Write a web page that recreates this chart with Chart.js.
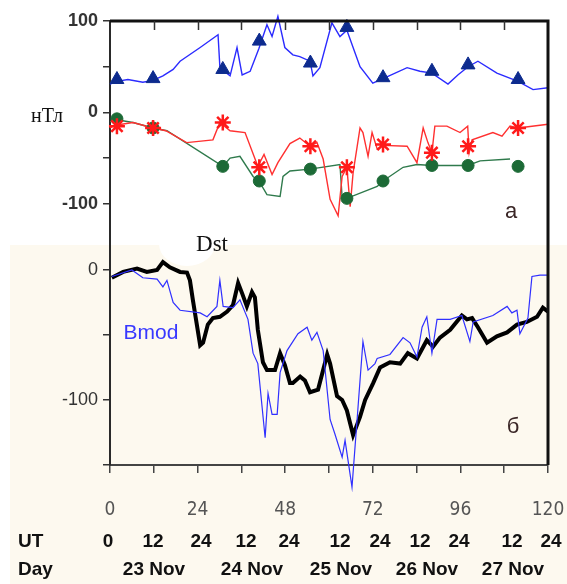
<!DOCTYPE html>
<html>
<head>
<meta charset="utf-8">
<script src="https://cdn.jsdelivr.net/npm/chart.js@4.4.1/dist/chart.umd.min.js"></script>
<style>
body{margin:0;background:#fff;width:567px;height:584px;overflow:hidden;position:relative;font-family:'Liberation Sans',Arial,sans-serif}
#beige{position:absolute;left:10px;top:245px;width:557px;height:339px;background:#fdf9ef}
#blob{position:absolute;left:159px;top:222px;width:56px;height:44px;border-radius:50%;background:#fff}
canvas{position:absolute;left:0}
#top{top:0}
#bot{top:245px}
.t{position:absolute;white-space:nowrap;line-height:1;transform:translate(-50%,-50%)}
.l{transform:translate(0,-50%)}
</style>
</head>
<body>
<div id="beige"></div>
<div id="blob"></div>
<canvas id="top" width="567" height="245"></canvas>
<canvas id="bot" width="567" height="339"></canvas>
<script>
// panel a: three field components, hours from 00 UT 23 Nov
const topBlueHours = [0,1.9,4.9,9,11.8,14.5,17.3,19.2,24.7,29.6,30.1,31,32.9,34.8,36.2,38.4,40.8,43,44.4,46,47.9,50.1,52,54.8,55.6,57.5,60.8,63,64.9,68.5,72,74.8,81.4,84.9,88.2,92.6,95.3,98.1,100.8,106,111.8,115.9,120]
const topBlueVals  = [31,34,36,33,35,40,47,56,71,85,50,46,40,71,41,45,70,96,83,105,71,63,61,56,40,49,98,83,90,50,32,37,49,45,43,31,41,50,56,43,34,25,27]

const redHours = [0,1.4,6.3,11.8,15.3,21,28.2,30.1,32.9,37,40.5,42.2,44.4,46,49.3,52,54.8,56.7,58.4,60.3,62.5,63.6,64.9,65.8,66.6,68.5,69.3,70.7,71.8,73.2,74.8,81.4,84.1,85.8,87.1,88.2,89,92.3,95.9,98,98.4,99.2,104.9,107.4,109.6,111.8,120]
const redVals  = [-17,-14,-11,-17,-20,-33,-30,-11,-20,-22,-59,-46,-68,-55,-34,-28,-37,-33,-51,-95,-113,-70,-60,-103,-66,-17,-22,-48,-22,-40,-36,-37,-55,-17,-33,-44,-15,-15,-22,-15,-44,-30,-22,-26,-15,-17,-13]

const greenHours = [0,1.9,6.3,11.8,15.6,30.9,32.9,35.6,39.2,40.8,43,46.6,47.4,49.3,54.8,63,63.6,64.9,73.2,74.8,80.3,84.1,88.2,98,101.4,109.6]
const greenVals  = [-10,-8,-11,-17,-20,-59,-50,-48,-70,-75,-90,-92,-70,-64,-62,-57,-93,-94,-81,-75,-60,-57,-58,-58,-53,-51]

// observation markers
const markHours = [1.9,11.8,30.9,40.9,54.9,64.9,74.8,88.2,98.1,111.8]
const triVals   = [36,37,47,78,54,93,38,45,52,36]
const starVals  = [-15,-17,-11,-60,-37,-60,-35,-44,-37,-17]
const dotVals   = [-7,-17,-59,-75,-62,-94,-75,-58,-58,-59]

// panel б: Dst and Bmod
const dstHours = [0.5,3.6,7.4,10.1,12.9,14.5,16.4,19.2,21.1,21.9,22.7,24.7,25.5,26.8,28.2,30.1,32.1,33.7,35.1,36.2,37.5,38.9,39.7,40.5,41.9,43,45.2,46.6,47.9,49.3,50.1,52.1,53.4,54.8,57,59.5,60.3,62.2,63.6,64.9,66.6,68.5,69.9,72.1,74,76.7,79.5,81.6,84.1,86.8,88.5,90.4,93.2,96.4,97.8,99.2,100.8,103.3,106,108.8,111.5,114.2,117,118.6,120]
const dstVals  = [-6,-1.5,1,-1.5,0,6,2,-1.5,-2,-8,-23,-58,-56,-42,-37,-36,-32,-27,-10,-18,-28,-17,-21,-46,-71,-77,-77,-64,-73,-87,-87,-82,-85,-94,-92,-65,-72,-97,-100,-108,-127,-113,-100,-87,-75,-71,-72,-64,-68,-54,-59,-52,-46,-35,-38,-37,-44,-56,-51,-48,-42,-40,-36,-29,-32]

const bmodHours = [0.5,6,9,12.9,14.5,15.6,17.3,19.2,24.7,26.6,29.3,30.1,31,33.7,35.6,37.8,39.2,40.5,42.5,43.3,44.4,45.8,46.6,48.5,51.5,54,55.3,56.7,58.4,60.3,61.6,63.6,64.4,66.3,67.7,69.3,70.7,72.6,73.2,76.7,80.3,82.2,84.1,85.5,86.8,88.2,89.6,93.2,96.4,98.6,99.5,104.9,108.8,110.1,111.5,112.3,114.5,115.6,117.8,120]
const bmodVals  = [-5,0,-6,-7,-13,-8,-25,-31,-33,-36,-28,-8,-28,-29,-23,-38,-64,-72,-129,-95,-111,-111,-79,-62,-49,-44,-54,-48,-62,-115,-126,-144,-131,-167,-115,-55,-77,-72,-68,-65,-52,-56,-67,-44,-36,-64,-38,-38,-35,-55,-40,-35,-28,-33,-31,-49,-37,-5,-4,-4]

const utLabels  = ['0','12','24','12','24','12','24','12','24','12','24']
const dayLabels = ['23 Nov','24 Nov','25 Nov','26 Nov','27 Nov']

const pts = (xs, ys) => xs.map((x, i) => ({x: x, y: ys[i]}))

const frame = {
  id: 'frame',
  afterDraw(chart, args, opts) {
    const ctx = chart.ctx, a = chart.chartArea, x = chart.scales.x
    ctx.save()
    ctx.strokeStyle = '#111'
    ctx.lineWidth = 3
    ctx.beginPath()
    ctx.moveTo(a.right, opts.top ? a.top - 1.5 : a.top)
    ctx.lineTo(a.right, a.bottom)
    if (opts.top) {
      ctx.moveTo(a.left, a.top)
      ctx.lineTo(a.right, a.top)
    }
    ctx.stroke()
    if (opts.top) { // inward ticks on the top edge
      ctx.lineWidth = 1.5
      ctx.strokeStyle = '#333'
      ctx.beginPath()
      for (let h = 12; h < 120; h += 12) {
        const px = Math.round(x.getPixelForValue(h)) + 0.5
        ctx.moveTo(px, a.top)
        ctx.lineTo(px, a.top + 9)
      }
      ctx.stroke()
    }
    ctx.restore()
  }
}

const noPad = s => { s.paddingTop = s.paddingBottom = s.paddingLeft = s.paddingRight = 0 }

const yAxis = (ticks, bold) => ({
  afterFit: s => { s.width = 110; noPad(s) },
  afterBuildTicks: s => { s.ticks = ticks.map(v => ({value: v})) },
  grid: {drawOnChartArea: false, tickLength: 7, color: '#333', lineWidth: 1.5},
  border: {display: true, color: '#2a2a2a', width: 2},
  ticks: {
    padding: 5, color: '#333',
    font: {family: 'Liberation Sans', size: 18, weight: bold ? 'bold' : 'normal'},
    callback: v => (v % 100 === 0 ? String(v) : '')
  }
})

const line = (data, color, width) => ({
  data: data, borderColor: color, borderWidth: width, pointRadius: 0,
  fill: false, tension: 0, clip: false
})
const marks = (data, style, color, r) => ({
  data: data, showLine: false, pointStyle: style, pointRadius: r,
  pointBackgroundColor: color, pointBorderColor: color, pointBorderWidth: style === 'star' ? 2.5 : 1, clip: false
})

const common = {
  responsive: false, animation: false, events: [],
  plugins: {legend: {display: false}, tooltip: {enabled: false}}
}

new Chart(document.getElementById('top'), {
  type: 'line',
  data: {datasets: [
    marks(pts(markHours, triVals), 'triangle', '#0d2b8e', 8),
    marks(pts(markHours, starVals), 'star', '#ff1a1a', 8),
    marks(pts(markHours, dotVals), 'circle', '#1c6a36', 6),
    line(pts(topBlueHours, topBlueVals), '#2b2bff', 1.4),
    line(pts(redHours, redVals), '#ff3030', 1.4),
    line(pts(greenHours, greenVals), '#2f7a4c', 1.4)
  ]},
  options: Object.assign({}, common, {
    layout: {autoPadding: false, padding: {top: 21, right: 19, bottom: 0, left: 0}},
    plugins: Object.assign({}, common.plugins, {frame: {top: true}}),
    scales: {
      x: {type: 'linear', min: 0, max: 120, display: false, afterFit: s => { s.height = 0; noPad(s) }},
      y: Object.assign({min: -145, max: 100}, yAxis([100, 50, 0, -50, -100], true))
    }
  }),
  plugins: [frame]
})

new Chart(document.getElementById('bot'), {
  type: 'line',
  data: {datasets: [
    line(pts(bmodHours, bmodVals), '#3030ff', 1.2),
    line(pts(dstHours, dstVals), '#000', 4)
  ]},
  options: Object.assign({}, common, {
    layout: {autoPadding: false, padding: {top: 0, right: 19, bottom: 0, left: 0}},
    plugins: Object.assign({}, common.plugins, {frame: {top: false}}),
    scales: {
      x: {
        type: 'linear', min: 0, max: 120,
        afterFit: s => { s.height = 119; noPad(s) },
        grid: {drawOnChartArea: false, tickLength: 8, color: '#444', lineWidth: 1.5},
        border: {display: true, color: '#444', width: 2},
        ticks: {
          stepSize: 12, autoSkip: false, maxRotation: 0, padding: 26, color: '#555',
          font: {family: "'Liberation Sans Narrow', 'DejaVu Sans Condensed', sans-serif", size: 19},
          callback: v => (v % 24 === 0 ? String(v) : '')
        }
      },
      y: Object.assign({min: -150, max: 19.2}, yAxis([0, -50, -100, -150], false))
    }
  }),
  plugins: [frame]
})

// text around the plot
function text(s, x, y, css, cls) {
  const d = document.createElement('div')
  d.className = 't' + (cls ? ' ' + cls : '')
  d.textContent = s
  d.style.left = x + 'px'
  d.style.top = y + 'px'
  d.style.cssText += css
  document.body.appendChild(d)
}
const serif = "font-family:'Liberation Serif',serif;color:#111;"
const bold = 'font-weight:bold;font-size:19px;color:#111;'
text('нТл', 47, 115, serif + 'font-size:20px;')
text('Dst', 212, 243, serif + 'font-size:23px;')
text('Bmod', 151, 331, 'font-size:21px;color:#3838ff;')
text('а', 511, 211, 'font-size:22px;color:#3a2626;')
text('б', 513, 426, 'font-size:22px;color:#3a2626;')
text('UT', 18, 540, bold, 'l')
text('Day', 18, 568, bold, 'l')
const utX = [108, 153, 201, 246, 289, 340, 380, 420, 459, 512, 551]
utLabels.forEach((s, i) => text(s, utX[i], 540, bold))
const dayX = [154, 252, 341, 427, 513]
dayLabels.forEach((s, i) => text(s, dayX[i], 568, bold))
</script>
</body>
</html>
